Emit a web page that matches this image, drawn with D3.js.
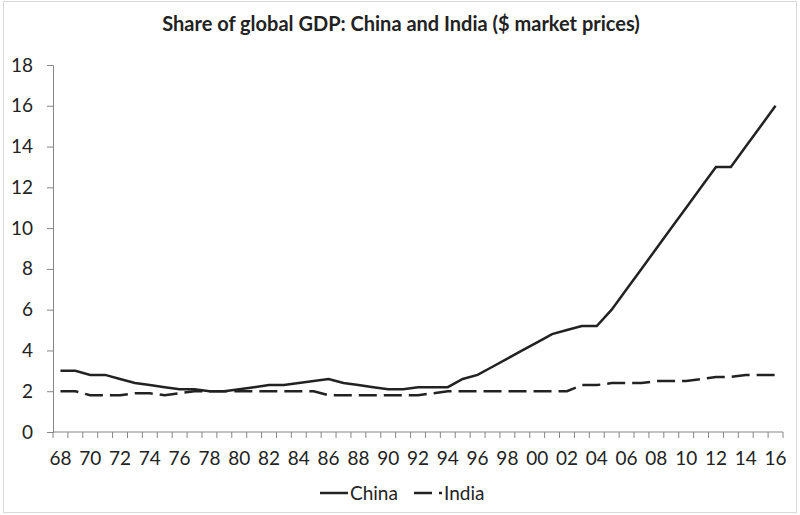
<!DOCTYPE html>
<head>
    <title>Share of global GDP: China and India</title>
    <script src="https://cdn.jsdelivr.net/npm/d3@7"></script>
</head>
<style>
body {
  margin: 0;
  font-family: Lato, "Open Sans", Arial, sans-serif;
  background: #fff;
}
</style>
<body>
    <svg id="chart"></svg>
</body>

<script>

    // Data, one value per year 1968..2016
    var years = d3.range(1968, 2017);
    var china = [3.0, 3.0, 2.8, 2.8, 2.6, 2.4, 2.3, 2.2, 2.1, 2.1,
                 2.0, 2.0, 2.1, 2.2, 2.3, 2.3, 2.4, 2.5, 2.6, 2.4,
                 2.3, 2.2, 2.1, 2.1, 2.2, 2.2, 2.2, 2.6, 2.8, 3.2,
                 3.6, 4.0, 4.4, 4.8, 5.0, 5.2, 5.2, 6.0, 7.0, 8.0,
                 9.0, 10.0, 11.0, 12.0, 13.0, 13.0, 14.0, 15.0, 16.0];
    var india = [2.0, 2.0, 1.8, 1.8, 1.8, 1.9, 1.9, 1.8, 1.9, 2.0,
                 2.0, 2.0, 2.0, 2.0, 2.0, 2.0, 2.0, 2.0, 1.8, 1.8,
                 1.8, 1.8, 1.8, 1.8, 1.8, 1.9, 2.0, 2.0, 2.0, 2.0,
                 2.0, 2.0, 2.0, 2.0, 2.0, 2.3, 2.3, 2.4, 2.4, 2.4,
                 2.5, 2.5, 2.5, 2.6, 2.7, 2.7, 2.8, 2.8, 2.8];
    var yTicks = [0, 2, 4, 6, 8, 10, 12, 14, 16, 18];

    var width = 800, height = 515;
    var plotLeft = 53, plotRight = 783, plotTop = 65, plotBottom = 432;

    var svg = d3.select('#chart')
        .attr('width', width)
        .attr('height', height);

    // chart frame
    svg.append('rect')
        .attr('x', 3.5).attr('y', 1.5)
        .attr('width', 793).attr('height', 511)
        .attr('fill', '#fff')
        .attr('stroke', '#d9d9d9');

    svg.append('text')
        .attr('x', 401).attr('y', 31)
        .attr('text-anchor', 'middle')
        .style('font-weight', 'bold')
        .style('font-size', '20px')
        .style('fill', '#222')
        .text('Share of global GDP: China and India ($ market prices)');

    // categories sit between tick marks, like Excel does
    var x = d3.scaleBand()
        .domain(years)
        .range([plotLeft, plotRight]);

    var y = d3.scaleLinear()
        .domain([0, 18])
        .range([plotBottom, plotTop]);

    var axisColor = '#868686';

    // y axis
    var yAxis = svg.append('g')
        .attr('transform', 'translate(' + plotLeft + ',0)')
        .call(d3.axisLeft(y).tickValues(yTicks).tickSize(6).tickPadding(14));
    yAxis.select('.domain').attr('stroke', axisColor);
    yAxis.selectAll('.tick line').attr('stroke', axisColor);
    yAxis.selectAll('.tick text')
        .style('font-size', '19px')
        .style('font-family', 'Lato, sans-serif')
        .attr('fill', '#222');

    // x axis: ticks on band edges, labels every 2 years at band centres
    var xAxisG = svg.append('g').attr('transform', 'translate(0,' + plotBottom + ')');
    xAxisG.append('line')
        .attr('x1', plotLeft).attr('x2', plotRight)
        .attr('stroke', axisColor);
    xAxisG.selectAll('line.tk')
        .data(years.concat([2017]))
        .enter().append('line')
        .attr('class', 'tk')
        .attr('x1', function (d) { return d === 2017 ? plotRight : x(d); })
        .attr('x2', function (d) { return d === 2017 ? plotRight : x(d); })
        .attr('y1', 0).attr('y2', 6)
        .attr('stroke', axisColor);
    xAxisG.selectAll('text')
        .data(years.filter(function (d) { return d % 2 === 0; }))
        .enter().append('text')
        .attr('x', function (d) { return x(d) + x.bandwidth() / 2; })
        .attr('y', 33)
        .attr('text-anchor', 'middle')
        .style('font-size', '19px')
        .attr('fill', '#222')
        .text(function (d) { return String(d).slice(2); });

    var line = d3.line()
        .x(function (d, i) { return x(years[i]) + x.bandwidth() / 2; })
        .y(function (d) { return y(d); });

    svg.append('path')
        .datum(china)
        .attr('d', line)
        .attr('fill', 'none')
        .attr('stroke', '#222')
        .attr('stroke-width', 2.5);

    svg.append('path')
        .datum(india)
        .attr('d', line)
        .attr('fill', 'none')
        .attr('stroke', '#222')
        .attr('stroke-width', 2.5)
        .attr('stroke-dasharray', '18,7');

    // legend
    var legend = svg.append('g').attr('transform', 'translate(0,493)');
    legend.append('line')
        .attr('x1', 320).attr('x2', 348)
        .attr('stroke', '#222').attr('stroke-width', 2.5);
    legend.append('text')
        .attr('x', 350).attr('y', 7)
        .style('font-size', '19px').attr('fill', '#222')
        .text('China');
    legend.append('line')
        .attr('x1', 414).attr('x2', 442)
        .attr('stroke', '#222').attr('stroke-width', 2.5)
        .attr('stroke-dasharray', '18,7');
    legend.append('text')
        .attr('x', 444).attr('y', 7)
        .style('font-size', '19px').attr('fill', '#222')
        .text('India');

</script>
